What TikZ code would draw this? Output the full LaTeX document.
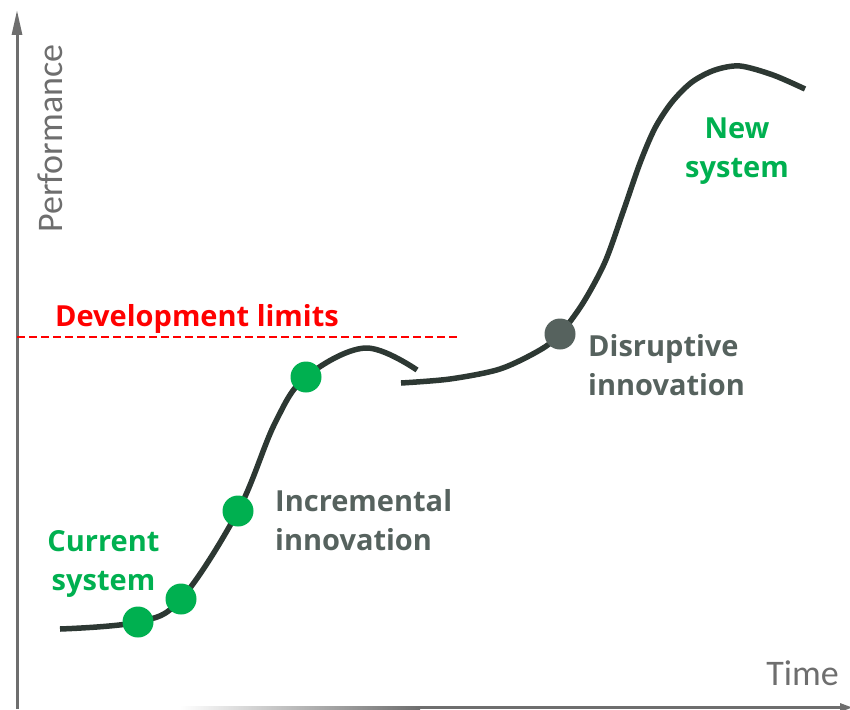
\documentclass[tikz,border=0pt]{standalone}
\usepackage{fontspec}
\setmainfont{Open Sans}
\newfontfamily\axisfont{Carlito}
\usetikzlibrary{arrows.meta}
\definecolor{axisgray}{HTML}{6E6E6E}
\definecolor{curvedark}{HTML}{2D3833}
\definecolor{sgreen}{HTML}{00B050}
\definecolor{ggreen}{HTML}{56625E}
\definecolor{lred}{HTML}{FF0000}
\tikzset{
  curveline/.style={draw=curvedark, line width=5.5pt, line cap=butt},
  gdot/.style={circle, fill=sgreen, minimum size=31pt, inner sep=0pt},
  ddot/.style={circle, fill=ggreen, minimum size=31pt, inner sep=0pt},
  biglabel/.style={font=\fontsize{29}{39}\selectfont\bfseries, inner sep=0pt, align=center},
  axislabel/.style={font=\axisfont\fontsize{36}{40}\selectfont, text=axisgray, inner sep=0pt},
}
\begin{document}
\begin{tikzpicture}[x=1pt,y=-1pt]
\useasboundingbox (0,0) rectangle (850,709);
% axes
\coordinate (yaxbot) at (17,709);
\coordinate (yaxtop) at (17,10);
\draw[axisgray, line width=3pt, -{Triangle[length=25pt,width=10pt]}] (yaxbot) -- (yaxtop);
\shade[left color=white, right color=axisgray] (180,706) rectangle (420,709);
\fill[axisgray] (420,706) rectangle (842,709);
\fill[axisgray] (840,703) -- (852,707.5) -- (840,712) -- cycle;
\node[axislabel, rotate=90, anchor=base west] (perf) at (62,233) {Performance};
\node[axislabel, anchor=base east] (time) at (839,685) {Time};
% development limit
\coordinate (limL) at (17,337);
\coordinate (limR) at (460,337);
\draw[lred, line width=2pt, dash pattern=on 8pt off 4pt] (limL) -- (limR);
\node[biglabel, text=lred, anchor=base west] (dev) at (55,326) {Development limits};
% curve 1
\draw[curveline] plot[smooth, tension=0.6] coordinates {(60,629) (138,622) (181,599) (238,511) (275,423) (306,377) (365,348) (417,370)};
% curve 2
\draw[curveline] plot[smooth, tension=0.5] coordinates {(401,383) (450,379) (500,369) (540,350) (560,334) (583,303) (605,262) (623,212) (640,163) (655,128) (672,102) (692,82) (715,70) (740,66) (773,75) (805,89)};
% dots
\node[gdot] (d1) at (138,622) {};
\node[gdot] (d2) at (181,599) {};
\node[gdot] (d3) at (238,511) {};
\node[gdot] (d4) at (306,377) {};
\node[ddot] (d5) at (560,334) {};
% labels (base = baseline of last line)
\node[biglabel, text=sgreen, anchor=base] (cur) at (103.5,590) {Current\\system};
\node[biglabel, text=ggreen, anchor=base west, align=left] (inc) at (275,550) {Incremental\\innovation};
\node[biglabel, text=ggreen, anchor=base west, align=left] (dis) at (588,395) {Disruptive\\innovation};
\node[biglabel, text=sgreen, anchor=base] (new) at (737,177) {New\\system};
\end{tikzpicture}
\end{document}
